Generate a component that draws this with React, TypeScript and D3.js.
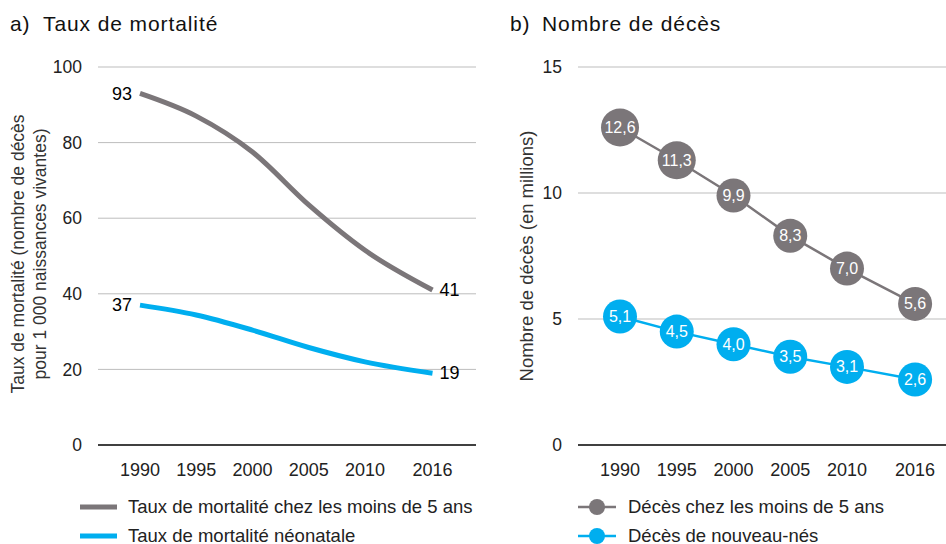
import React from "react";
import * as d3 from "d3";

const years = [1990, 1995, 2000, 2005, 2010, 2016];
const rateUnder5 = [93, 87, 77.5, 63.5, 51.5, 41];
const rateNeonatal = [37, 34.4, 30.4, 25.8, 22, 19];
const rateTicks = [0, 20, 40, 60, 80, 100];
const deathsUnder5 = [12.6, 11.3, 9.9, 8.3, 7.0, 5.6];
const deathsNewborn = [5.1, 4.5, 4.0, 3.5, 3.1, 2.6];
const deathTicks = [0, 5, 10, 15];

const GRAY = "#7b7679";
const BLUE = "#00aeef";
const FONT = "'Liberation Sans', Arial, sans-serif";

const fmt = (v: number) => v.toFixed(1).replace(".", ",");

export default function App() {
  const top = 67;
  const bottom = 445;

  // left panel
  const xA = d3.scaleLinear().domain([1990, 2010]).range([140, 365]);
  const yA = d3.scaleLinear().domain([0, 100]).range([bottom, top]);
  const lineA = d3
    .line<number>()
    .x((_, i) => xA(years[i]))
    .y((d) => yA(d))
    .curve(d3.curveMonotoneX);

  // right panel
  const xB = d3.scaleLinear().domain([1990, 2010]).range([620, 847]);
  const yB = d3.scaleLinear().domain([0, 15]).range([bottom, top]);
  const lineB = d3
    .line<number>()
    .x((_, i) => xB(years[i]))
    .y((d) => yB(d));

  const last = years.length - 1;

  return (
    <svg width={946} height={544} style={{ display: "block", position: "absolute", left: 0, top: 0 }} fontFamily={FONT}>
      <rect width={946} height={544} fill="#fff" />

      {/* ---- a) ---- */}
      <text x={10} y={31} fontSize={21} fill="#111" letterSpacing={0.9}>
        <tspan>a)</tspan>
        <tspan x={43}>Taux de mortalité</tspan>
      </text>
      {rateTicks.map((t) => (
        <g key={"ga" + t}>
          <line x1={98} x2={476} y1={yA(t)} y2={yA(t)} stroke={t === 0 ? "#000" : "#bdbdbd"} strokeWidth={t === 0 ? 1.5 : 1} />
          <text x={82} y={yA(t)} dy="0.35em" textAnchor="end" fontSize={17.5} fill="#222">{t}</text>
        </g>
      ))}
      {years.map((yr) => (
        <text key={"xa" + yr} x={xA(yr)} y={470} dy="0.35em" textAnchor="middle" fontSize={18} fill="#222">{yr}</text>
      ))}
      <text transform={`translate(18,254) rotate(-90)`} textAnchor="middle" dy="0.35em" fontSize={17.5} fill="#333">
        Taux de mortalité (nombre de décès
      </text>
      <text transform={`translate(40,254) rotate(-90)`} textAnchor="middle" dy="0.35em" fontSize={17.5} fill="#333">
        pour 1 000 naissances vivantes)
      </text>
      <path d={lineA(rateUnder5) || ""} fill="none" stroke={GRAY} strokeWidth={5} />
      <path d={lineA(rateNeonatal) || ""} fill="none" stroke={BLUE} strokeWidth={5} />
      {[rateUnder5, rateNeonatal].map((s, k) => (
        <g key={"la" + k}>
          <text x={xA(years[0]) - 8} y={yA(s[0])} dy="0.35em" textAnchor="end" fontSize={18} fill="#000">{s[0]}</text>
          <text x={xA(years[last]) + 7} y={yA(s[last])} dy="0.35em" textAnchor="start" fontSize={18} fill="#000">{s[last]}</text>
        </g>
      ))}
      <line x1={80} x2={117} y1={507} y2={507} stroke={GRAY} strokeWidth={5} />
      <text x={128} y={507} dy="0.35em" fontSize={18.5} fill="#222">Taux de mortalité chez les moins de 5 ans</text>
      <line x1={80} x2={117} y1={536} y2={536} stroke={BLUE} strokeWidth={5} />
      <text x={128} y={536} dy="0.35em" fontSize={18.5} fill="#222">Taux de mortalité néonatale</text>

      {/* ---- b) ---- */}
      <text x={510} y={31} fontSize={21} fill="#111" letterSpacing={0.9}>
        <tspan>b)</tspan>
        <tspan x={542}>Nombre de décès</tspan>
      </text>
      {deathTicks.map((t) => (
        <g key={"gb" + t}>
          <line x1={578} x2={946} y1={yB(t)} y2={yB(t)} stroke={t === 0 ? "#000" : "#bdbdbd"} strokeWidth={t === 0 ? 1.5 : 1} />
          <text x={562} y={yB(t)} dy="0.35em" textAnchor="end" fontSize={17.5} fill="#222">{t}</text>
        </g>
      ))}
      {years.map((yr) => (
        <text key={"xb" + yr} x={xB(yr)} y={470} dy="0.35em" textAnchor="middle" fontSize={18} fill="#222">{yr}</text>
      ))}
      <text transform={`translate(527,256) rotate(-90)`} textAnchor="middle" dy="0.35em" fontSize={18.5} fill="#333">
        Nombre de décès (en millions)
      </text>
      {[
        { s: deathsUnder5, c: GRAY },
        { s: deathsNewborn, c: BLUE },
      ].map(({ s, c }, k) => (
        <g key={"sb" + k}>
          <path d={lineB(s) || ""} fill="none" stroke={c} strokeWidth={2.5} />
          {s.map((v, i) => (
            <g key={i}>
              <circle cx={xB(years[i])} cy={yB(v)} r={v >= 10 ? 19 : 17} fill={c} />
              <text x={xB(years[i])} y={yB(v)} dy="0.35em" textAnchor="middle" fontSize={16} fill="#fff">{fmt(v)}</text>
            </g>
          ))}
        </g>
      ))}
      <line x1={578} x2={616} y1={507} y2={507} stroke={GRAY} strokeWidth={2.5} />
      <circle cx={597} cy={507} r={8} fill={GRAY} />
      <text x={628} y={507} dy="0.35em" fontSize={18.5} fill="#222">Décès chez les moins de 5 ans</text>
      <line x1={578} x2={616} y1={536} y2={536} stroke={BLUE} strokeWidth={2.5} />
      <circle cx={597} cy={536} r={8} fill={BLUE} />
      <text x={628} y={536} dy="0.35em" fontSize={18.5} fill="#222">Décès de nouveau-nés</text>
    </svg>
  );
}
